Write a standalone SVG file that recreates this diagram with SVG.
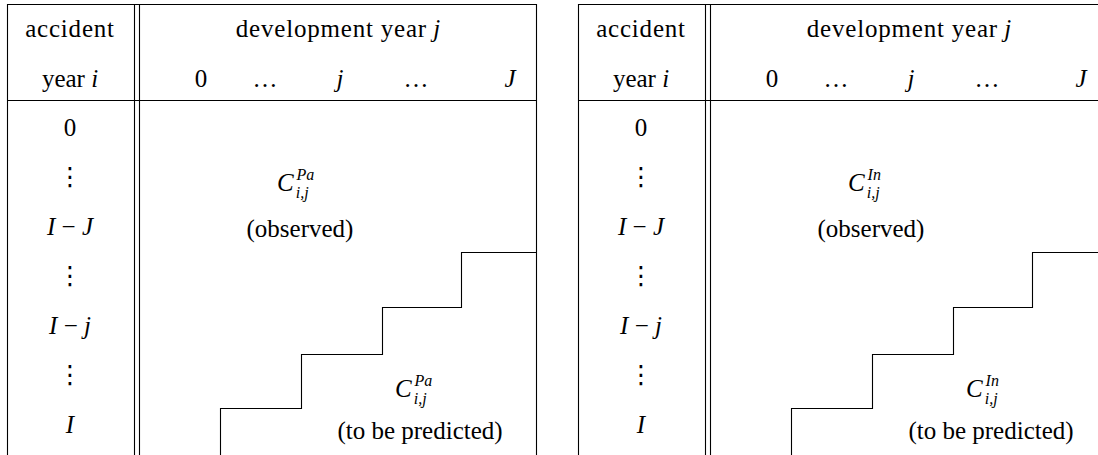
<svg xmlns="http://www.w3.org/2000/svg" width="1098" height="455" viewBox="0 0 1098 455" font-family="'Liberation Serif', 'DejaVu Serif', serif">
<style>
.t{font-size:25px;text-anchor:middle;fill:#000}
.l{letter-spacing:0.8px}
.m{font-style:italic}
.c{font-size:25px;font-style:italic;fill:#000}
.s{font-size:16px;font-style:italic}
.v{font-family:"DejaVu Sans",sans-serif;font-size:25px;text-anchor:middle;fill:#000}
.ln{fill:none;stroke:#000;stroke-width:1.1}
</style>
<g id="connectors">
<path class="ln" d="M7.5 4.5H536.5M7.5 100.5H536.5M7.5 4V455M134.5 4V455M139.5 4V455M536.5 4V455"/>
<path class="ln" d="M536.5 252.5H461.5V307.5H382.5V354.5H301.5V408.5H220.5V455"/>
<path class="ln" d="M578.5 4.5H1098M578.5 100.5H1098M578.5 4V455M705.5 4V455M710.5 4V455"/>
<path class="ln" d="M1098 252.5H1032.5V307.5H953.5V354.5H872.5V408.5H791.5V455"/>
</g>
<g id="table-pa">
<g id="pa-header">
<text class="t l" x="70" y="37">accident</text>
<text class="t" x="70" y="87">year <tspan class="m">i</tspan></text>
<text class="t" x="338" y="37"><tspan class="l">development year</tspan> <tspan class="m">j</tspan></text>
<text class="t" x="201" y="87">0</text>
<text class="t" x="265" y="87">…</text>
<text class="t m" x="340" y="87">j</text>
<text class="t" x="416" y="87">…</text>
<text class="t m" x="510" y="87">J</text>
</g>
<g id="pa-rows">
<text class="t" x="70" y="136">0</text>
<text class="v" x="70" y="185">⋮</text>
<text class="t" x="70" y="235"><tspan class="m">I</tspan> − <tspan class="m">J</tspan></text>
<text class="v" x="70" y="284">⋮</text>
<text class="t" x="70" y="334"><tspan class="m">I</tspan> − <tspan class="m">j</tspan></text>
<text class="v" x="70" y="383">⋮</text>
<text class="t m" x="70" y="433">I</text>
</g>
<g id="pa-observed">
<text class="c" x="277" y="191">C<tspan class="s" dx="2" dy="7">i,j</tspan><tspan class="s" dx="-12" dy="-18">Pa</tspan></text>
<text class="t" x="300" y="237">(observed)</text>
</g>
<g id="pa-predicted">
<text class="c" x="395" y="397">C<tspan class="s" dx="2" dy="7">i,j</tspan><tspan class="s" dx="-12" dy="-18">Pa</tspan></text>
<text class="t" x="420" y="439">(to be predicted)</text>
</g>
</g>
<g id="table-in">
<g id="in-header">
<text class="t l" x="641" y="37">accident</text>
<text class="t" x="641" y="87">year <tspan class="m">i</tspan></text>
<text class="t" x="909" y="37"><tspan class="l">development year</tspan> <tspan class="m">j</tspan></text>
<text class="t" x="772" y="87">0</text>
<text class="t" x="836" y="87">…</text>
<text class="t m" x="911" y="87">j</text>
<text class="t" x="987" y="87">…</text>
<text class="t m" x="1081" y="87">J</text>
</g>
<g id="in-rows">
<text class="t" x="641" y="136">0</text>
<text class="v" x="641" y="185">⋮</text>
<text class="t" x="641" y="235"><tspan class="m">I</tspan> − <tspan class="m">J</tspan></text>
<text class="v" x="641" y="284">⋮</text>
<text class="t" x="641" y="334"><tspan class="m">I</tspan> − <tspan class="m">j</tspan></text>
<text class="v" x="641" y="383">⋮</text>
<text class="t m" x="641" y="433">I</text>
</g>
<g id="in-observed">
<text class="c" x="848" y="191">C<tspan class="s" dx="2" dy="7">i,j</tspan><tspan class="s" dx="-12" dy="-18">In</tspan></text>
<text class="t" x="871" y="237">(observed)</text>
</g>
<g id="in-predicted">
<text class="c" x="966" y="397">C<tspan class="s" dx="2" dy="7">i,j</tspan><tspan class="s" dx="-12" dy="-18">In</tspan></text>
<text class="t" x="991" y="439">(to be predicted)</text>
</g>
</g>
</svg>
